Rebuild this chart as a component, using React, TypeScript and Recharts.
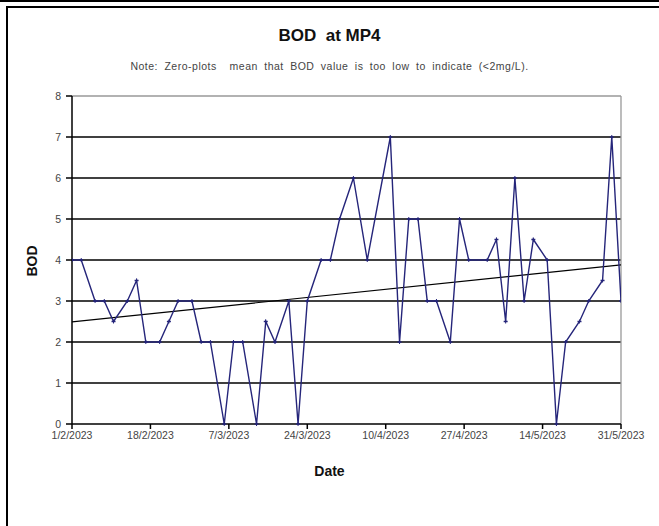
import React from "react";
import {
  ComposedChart,
  Line,
  XAxis,
  YAxis,
  CartesianGrid,
  ReferenceLine,
} from "recharts";

// sample dates (d/m/yyyy) and BOD readings (mg/L)
const dates = [
  "1/2/2023", "3/2/2023", "6/2/2023", "8/2/2023", "10/2/2023", "13/2/2023",
  "15/2/2023", "17/2/2023", "20/2/2023", "22/2/2023", "24/2/2023", "27/2/2023",
  "1/3/2023", "3/3/2023", "6/3/2023", "8/3/2023", "10/3/2023", "13/3/2023",
  "15/3/2023", "17/3/2023", "20/3/2023", "22/3/2023", "24/3/2023", "27/3/2023",
  "29/3/2023", "31/3/2023", "3/4/2023", "6/4/2023", "11/4/2023", "13/4/2023",
  "15/4/2023", "17/4/2023", "19/4/2023", "21/4/2023", "24/4/2023", "26/4/2023",
  "28/4/2023", "2/5/2023", "4/5/2023", "6/5/2023", "8/5/2023", "10/5/2023",
  "12/5/2023", "15/5/2023", "17/5/2023", "19/5/2023", "22/5/2023", "24/5/2023",
  "27/5/2023", "29/5/2023", "31/5/2023",
];

const bod = [
  4, 4, 3, 3, 2.5, 3,
  3.5, 2, 2, 2.5, 3, 3,
  2, 2, 0, 2, 2, 0,
  2.5, 2, 3, 0, 3, 4,
  4, 5, 6, 4, 7, 2,
  5, 5, 3, 3, 2, 5,
  4, 4, 4.5, 2.5, 6, 3,
  4.5, 4, 0, 2, 2.5, 3,
  3.5, 7, 3,
];

const tickLabels = [
  "1/2/2023", "18/2/2023", "7/3/2023", "24/3/2023",
  "10/4/2023", "27/4/2023", "14/5/2023", "31/5/2023",
];

const yTicks = [0, 1, 2, 3, 4, 5, 6, 7, 8];

const toDay = (s: string) => {
  const [d, m, y] = s.split("/").map(Number);
  return Date.UTC(y, m - 1, d) / 86400000;
};

const day0 = toDay(dates[0]);
const data = dates.map((d, i) => ({ day: toDay(d) - day0, bod: bod[i] }));
const xTicks = tickLabels.map((t) => toDay(t) - day0);
const xMax = xTicks[xTicks.length - 1];

// linear trend (least squares)
const n = data.length;
const mx = data.reduce((s, p) => s + p.day, 0) / n;
const my = data.reduce((s, p) => s + p.bod, 0) / n;
const slope =
  data.reduce((s, p) => s + (p.day - mx) * (p.bod - my), 0) /
  data.reduce((s, p) => s + (p.day - mx) * (p.day - mx), 0);
const trendData = [
  { day: 0, trend: my - slope * mx },
  { day: xMax, trend: my + slope * (xMax - mx) },
];

const font = "'Liberation Sans', Arial, sans-serif";
const navy = "#25257a";

const Marker = (props: any) => {
  const { cx, cy } = props;
  if (cx == null || cy == null) return null;
  return (
    <g>
      <line x1={cx - 2} y1={cy} x2={cx + 2} y2={cy} stroke={navy} strokeWidth={1.5} />
      <line x1={cx} y1={cy - 2} x2={cx} y2={cy + 2} stroke={navy} strokeWidth={1} />
    </g>
  );
};

export default function App() {
  return (
    <div
      style={{
        position: "fixed",
        left: 0,
        top: 0,
        width: 659,
        height: 526,
        background: "#fff",
        fontFamily: font,
        overflow: "hidden",
      }}
    >
      {/* frame */}
      <div style={{ position: "absolute", left: 0, top: 0, width: 659, height: 2, background: "#000" }} />
      <div
        style={{
          position: "absolute",
          left: 6,
          top: 6,
          width: 660,
          height: 530,
          borderTop: "2px solid #000",
          borderLeft: "2px solid #000",
        }}
      />

      <div
        style={{
          position: "absolute",
          left: 0,
          width: 659,
          top: 26,
          textAlign: "center",
          fontWeight: "bold",
          fontSize: 17,
          color: "#111",
        }}
      >
        BOD&nbsp; at MP4
      </div>
      <div
        style={{
          position: "absolute",
          left: 0,
          width: 659,
          top: 60,
          textAlign: "center",
          fontSize: 10.5,
          color: "#444",
          wordSpacing: 3,
          letterSpacing: 0.5,
        }}
      >
        Note: Zero-plots&nbsp; mean that BOD value is too low to indicate (&lt;2mg/L).
      </div>

      <ComposedChart
        width={659}
        height={526}
        style={{ position: "absolute", left: 0, top: 0 }}
        margin={{ top: 96, right: 38, bottom: 72, left: 42 }}
      >
        <CartesianGrid vertical={false} stroke="#000" strokeWidth={1.3} horizontalValues={[1, 2, 3, 4, 5, 6, 7]} />
        <ReferenceLine y={8} stroke="#999" strokeWidth={1.3} />
        <ReferenceLine x={xMax} stroke="#999" strokeWidth={1.3} />
        <XAxis
          type="number"
          dataKey="day"
          domain={[0, xMax]}
          ticks={xTicks}
          tickFormatter={(v: number) => tickLabels[xTicks.indexOf(v)] ?? ""}
          height={30}
          stroke="#000"
          strokeWidth={1.5}
          tickSize={5}
          tickMargin={3}
          tick={{ fontSize: 10.5, fill: "#444", fontFamily: font }}
          allowDataOverflow
        />
        <YAxis
          type="number"
          domain={[0, 8]}
          ticks={yTicks}
          width={30}
          stroke="#000"
          strokeWidth={1.5}
          tickSize={6}
          tickMargin={5}
          tick={{ fontSize: 10.5, fill: "#444", fontFamily: font }}
          interval={0}
        />
        <Line
          data={trendData}
          dataKey="trend"
          type="linear"
          stroke="#000"
          strokeWidth={1.2}
          dot={false}
          isAnimationActive={false}
        />
        <Line
          data={data}
          dataKey="bod"
          type="linear"
          stroke={navy}
          strokeWidth={1.4}
          dot={<Marker />}
          isAnimationActive={false}
        />
      </ComposedChart>

      <div
        style={{
          position: "absolute",
          left: 32,
          top: 261,
          transform: "translate(-50%, -50%) rotate(-90deg)",
          fontWeight: "bold",
          fontSize: 14,
          color: "#111",
        }}
      >
        BOD
      </div>
      <div
        style={{
          position: "absolute",
          left: 0,
          width: 659,
          top: 463,
          textAlign: "center",
          fontWeight: "bold",
          fontSize: 14,
          color: "#111",
        }}
      >
        Date
      </div>
    </div>
  );
}
